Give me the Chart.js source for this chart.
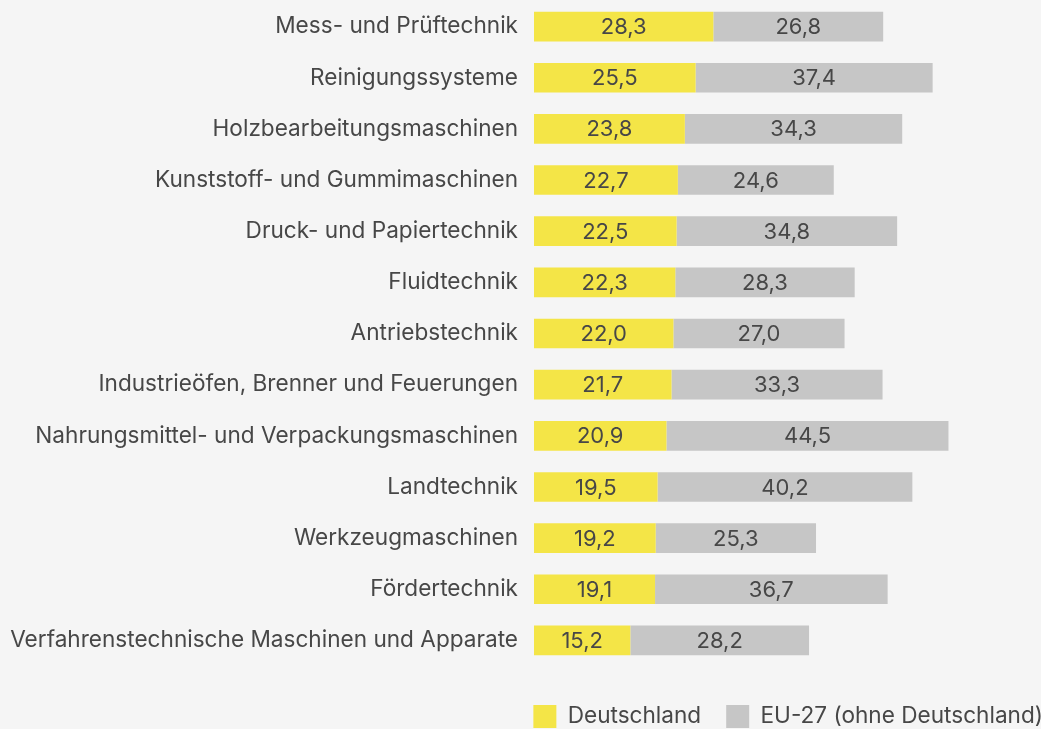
<!DOCTYPE html>
<html lang="de">
<head>
<meta charset="utf-8">
<script src="https://cdn.jsdelivr.net/npm/chart.js@4/dist/chart.umd.min.js"></script>
<style>
  html, body { margin: 0; padding: 0; background: #f5f5f5; overflow: hidden; }
  #wrap { width: 1041px; height: 729px; position: relative; }
</style>
</head>
<body>
<div id="wrap"><canvas id="chartMaschinenbau"></canvas></div>
<script>
const kategorien = [
    'Mess- und Prüftechnik',
    'Reinigungssysteme',
    'Holzbearbeitungsmaschinen',
    'Kunststoff- und Gummimaschinen',
    'Druck- und Papiertechnik',
    'Fluidtechnik',
    'Antriebstechnik',
    'Industrieöfen, Brenner und Feuerungen',
    'Nahrungsmittel- und Verpackungsmaschinen',
    'Landtechnik',
    'Werkzeugmaschinen',
    'Fördertechnik',
    'Verfahrenstechnische Maschinen und Apparate'
];
const werteDeutschland = [28.3, 25.5, 23.8, 22.7, 22.5, 22.3, 22.0, 21.7, 20.9, 19.5, 19.2, 19.1, 15.2];
const werteEU27 = [26.8, 37.4, 34.3, 24.6, 34.8, 28.3, 27.0, 33.3, 44.5, 40.2, 25.3, 36.7, 28.2];
const serienNamen = ['Deutschland', 'EU-27 (ohne Deutschland)'];

const schrift = 'Inter, sans-serif';
const textFarbe = '#474747';

// Werte mittig in die Balken schreiben (Komma als Dezimaltrenner)
const wertBeschriftung = {
    id: 'wertBeschriftung',
    afterDatasetsDraw(chart) {
        const ctx = chart.ctx;
        ctx.save();
        ctx.font = '22px ' + schrift;
        ctx.fillStyle = textFarbe;
        ctx.textAlign = 'center';
        ctx.textBaseline = 'middle';
        chart.data.datasets.forEach((ds, i) => {
            chart.getDatasetMeta(i).data.forEach((bar, j) => {
                const p = bar.getProps(['x', 'y', 'base'], true);
                ctx.fillText(ds.data[j].toFixed(1).replace('.', ','), (p.x + p.base) / 2, p.y + 1);
            });
        });
        ctx.restore();
    }
};

new Chart(document.getElementById('chartMaschinenbau'), {
    type: 'bar',
    data: {
        labels: kategorien,
        datasets: [
            { label: serienNamen[0], data: werteDeutschland, backgroundColor: '#f4e547' },
            { label: serienNamen[1], data: werteEU27, backgroundColor: '#c6c6c6' }
        ]
    },
    options: {
        indexAxis: 'y',
        responsive: true,
        maintainAspectRatio: false,
        animation: false,
        layout: { padding: { top: 1, right: -27, bottom: -9, left: 0 } },
        datasets: { bar: { categoryPercentage: 0.58, barPercentage: 1.0 } },
        scales: {
            x: {
                stacked: true,
                min: 0,
                max: 80,
                grid: { display: false },
                border: { display: false },
                ticks: { display: false },
                afterFit: s => { s.height = 14; }
            },
            y: {
                stacked: true,
                grid: { display: false, drawTicks: false },
                border: { display: false },
                afterFit: s => { s.width = 534; s.paddingTop = 0; s.paddingBottom = 0; },
                ticks: { color: textFarbe, padding: 16, font: { family: schrift, size: 22.6 } }
            }
        },
        plugins: {
            legend: {
                position: 'bottom',
                align: 'end',
                labels: {
                    color: textFarbe,
                    boxWidth: 23,
                    boxHeight: 23,
                    padding: 25,
                    font: { family: schrift, size: 22.6 }
                }
            },
            tooltip: { enabled: false }
        }
    },
    plugins: [wertBeschriftung]
});
</script>
</body>
</html>
